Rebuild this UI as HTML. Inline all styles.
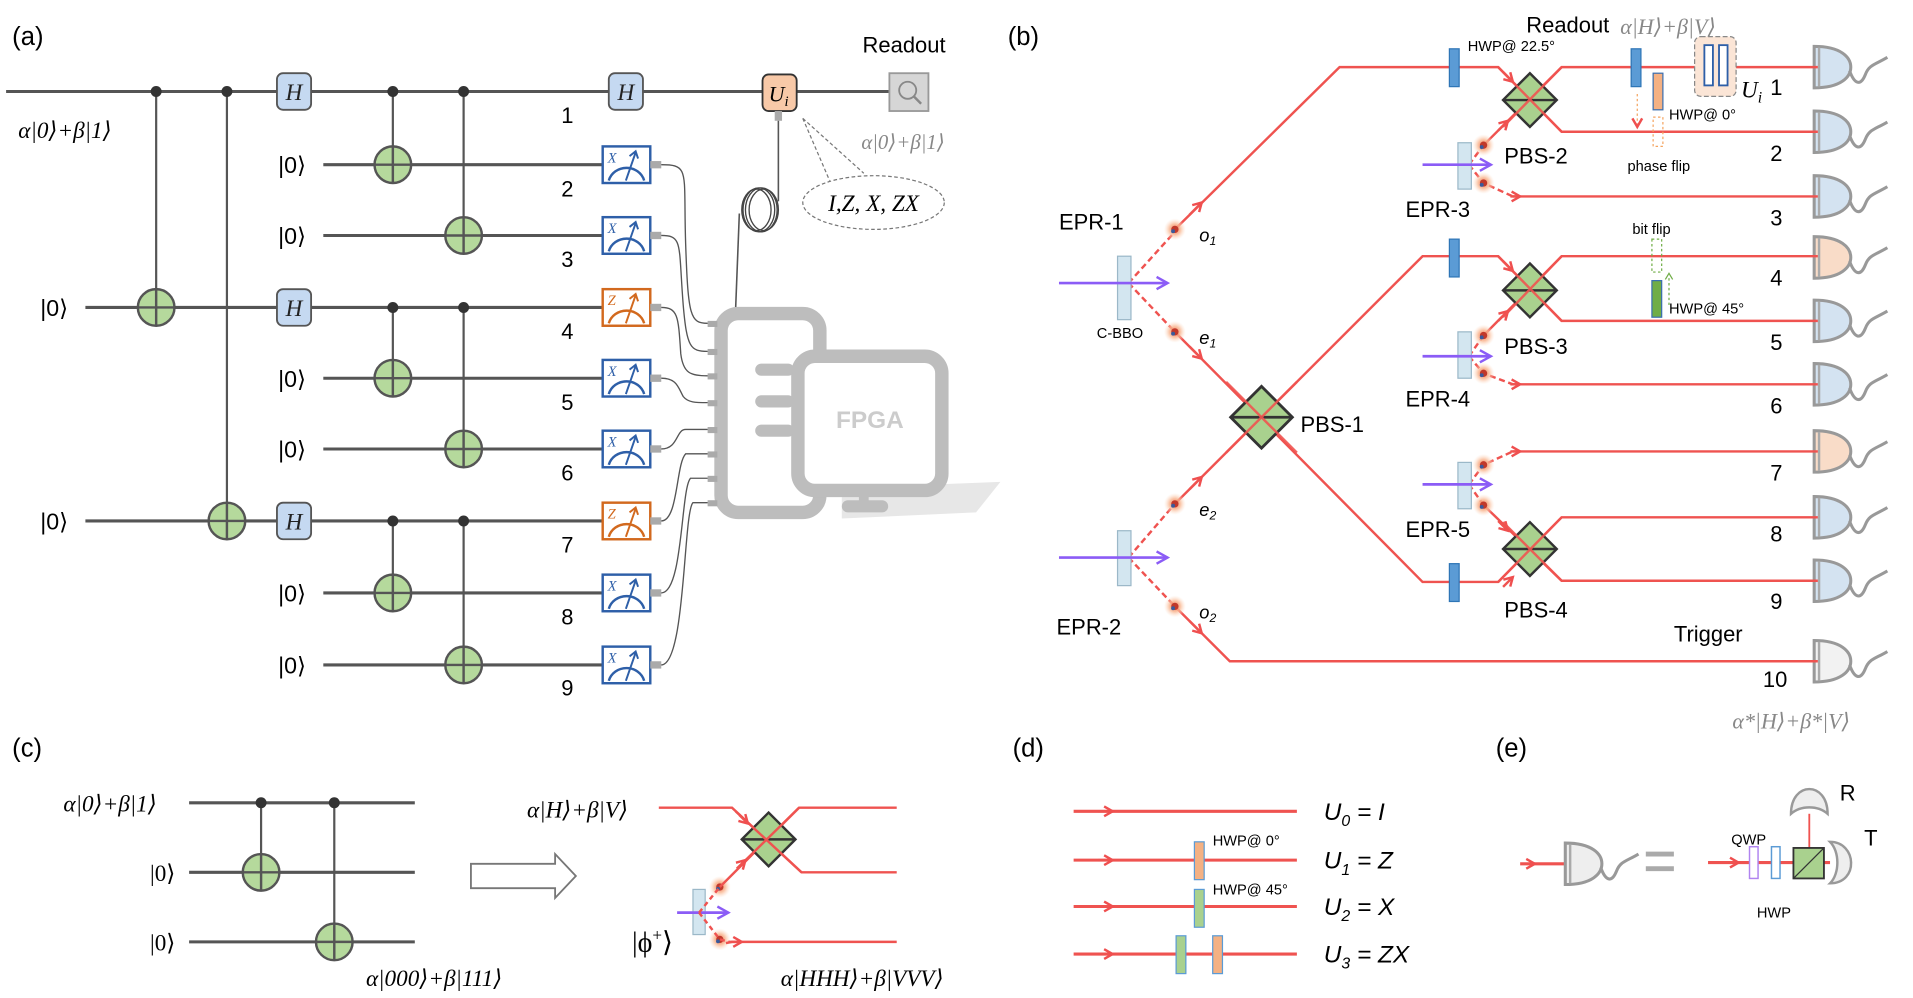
<!DOCTYPE html>
<html><head><meta charset="utf-8"><style>
html,body{margin:0;padding:0;background:#fff;}
svg{display:block;}
text{font-family:"Liberation Sans",sans-serif;}
.m{font-family:"Liberation Serif","DejaVu Serif",serif;font-style:italic;}
.k{font-family:"Liberation Serif","DejaVu Serif",serif;}
</style></head><body>
<svg width="1913" height="998" viewBox="0 0 1568 818" preserveAspectRatio="none" xmlns="http://www.w3.org/2000/svg">
<defs>
<marker id="ar" markerWidth="10" markerHeight="10" refX="8" refY="5" orient="auto" markerUnits="userSpaceOnUse"><path d="M1,1 L8,5 L1,9" fill="none" stroke="#ef4f4f" stroke-width="2"/></marker>
<marker id="ap" markerWidth="12" markerHeight="12" refX="10" refY="6" orient="auto" markerUnits="userSpaceOnUse"><path d="M1,1 L10,6 L1,11" fill="none" stroke="#8b5cf6" stroke-width="2"/></marker>
<radialGradient id="glow"><stop offset="0" stop-color="#f07050"/><stop offset="0.5" stop-color="#f9b690" stop-opacity="0.8"/><stop offset="1" stop-color="#fde0cc" stop-opacity="0"/></radialGradient>
<symbol id="det" overflow="visible"><path d="M0,-17 C22,-17 30,-8 30,0 C30,8 22,17 0,17 Z" stroke="#999" stroke-width="2.5"/><path d="M4,-16 L4,16" stroke="#aaa" stroke-width="2"/><path d="M29,3 C33,14 38,16 42,6 C45,-2 50,-2 60,-8" fill="none" stroke="#999" stroke-width="2.5"/></symbol>
<symbol id="pbs" overflow="visible"><path d="M0,-22 L22,0 L0,22 L-22,0 Z" fill="#a9d18e" stroke="#333" stroke-width="2"/><path d="M-22,0 L22,0" stroke="#333" stroke-width="2"/></symbol>
<symbol id="ph" overflow="visible"><circle r="9" fill="url(#glow)"/><circle r="3" fill="#c0392b"/><circle cx="-1.5" cy="1.5" r="1.6" fill="#3a5a9a"/></symbol>
<symbol id="tg" overflow="visible"><circle r="15" fill="#b5d99c" stroke="#555" stroke-width="2"/><path d="M-15,0 L15,0 M0,-15 L0,15" stroke="#555" stroke-width="2"/></symbol>
<symbol id="mx" overflow="visible"><rect x="-19" y="-15" width="39" height="30" fill="#fff" stroke="#2e5fa8" stroke-width="2"/><path d="M-14,13 A15,14 0 0 1 15,13" fill="none" stroke="#2e5fa8" stroke-width="2"/><path d="M0,13 L8,-10 M3,-7 L8,-11 L10,-5" fill="none" stroke="#2e5fa8" stroke-width="1.6"/><text x="-15" y="-2" font-size="12" class="m" fill="#2e5fa8">X</text><rect x="20" y="-3" width="9" height="6" fill="#aaa"/></symbol>
<symbol id="mz" overflow="visible"><rect x="-19" y="-15" width="39" height="30" fill="#fff" stroke="#d2691e" stroke-width="2"/><path d="M-14,13 A15,14 0 0 1 15,13" fill="none" stroke="#d2691e" stroke-width="2"/><path d="M0,13 L8,-10 M3,-7 L8,-11 L10,-5" fill="none" stroke="#d2691e" stroke-width="1.6"/><text x="-15" y="-2" font-size="12" class="m" fill="#d2691e">Z</text><rect x="20" y="-3" width="9" height="6" fill="#aaa"/></symbol>
<symbol id="hb" overflow="visible"><rect x="-14" y="-15" width="28" height="30" rx="5" fill="#c5d9f1" stroke="#555" stroke-width="1.5"/><text x="0" y="7" font-size="19" text-anchor="middle" class="m" fill="#222">H</text></symbol>
</defs>

<!-- ===== (a) ===== -->
<text x="10" y="37" font-size="21">(a)</text>
<text x="707" y="43" font-size="18">Readout</text>
<g stroke="#555" stroke-width="2.5" fill="none">
<path d="M5,75 L729,75"/>
<path d="M265,135 L494,135 M265,193 L494,193 M70,252 L494,252 M265,310 L494,310 M265,368 L494,368 M70,427 L494,427 M265,486 L494,486 M265,545 L494,545"/>
</g>
<g stroke="#555" stroke-width="1.8">
<path d="M128,75 L128,252 M186,75 L186,427 M322,75 L322,135 M380,75 L380,193 M322,252 L322,310 M380,252 L380,368 M322,427 L322,486 M380,427 L380,545"/>
</g>
<g fill="#333">
<circle cx="128" cy="75" r="4.5"/><circle cx="186" cy="75" r="4.5"/><circle cx="322" cy="75" r="4.5"/><circle cx="380" cy="75" r="4.5"/>
<circle cx="322" cy="252" r="4.5"/><circle cx="380" cy="252" r="4.5"/><circle cx="322" cy="427" r="4.5"/><circle cx="380" cy="427" r="4.5"/>
</g>
<use href="#tg" x="128" y="252"/><use href="#tg" x="186" y="427"/><use href="#tg" x="322" y="135"/><use href="#tg" x="380" y="193"/>
<use href="#tg" x="322" y="310"/><use href="#tg" x="380" y="368"/><use href="#tg" x="322" y="486"/><use href="#tg" x="380" y="545"/>
<use href="#hb" x="241" y="75"/><use href="#hb" x="513" y="75"/><use href="#hb" x="241" y="252"/><use href="#hb" x="241" y="427"/>
<use href="#mx" x="513" y="135"/><use href="#mx" x="513" y="193"/><use href="#mz" x="513" y="252"/><use href="#mx" x="513" y="310"/>
<use href="#mx" x="513" y="368"/><use href="#mz" x="513" y="427"/><use href="#mx" x="513" y="486"/><use href="#mx" x="513" y="545"/>
<rect x="625" y="61" width="28" height="30" rx="5" fill="#f8c9a8" stroke="#333" stroke-width="1.5"/>
<text x="630" y="83" font-size="18" class="m">U<tspan font-size="12" dy="4">i</tspan></text>
<rect x="729" y="60" width="32" height="31" fill="#d6d6d6" stroke="#999" stroke-width="1.5"/>
<circle cx="744" cy="74" r="7" fill="none" stroke="#888" stroke-width="1.5"/><path d="M749,79 L755,85" stroke="#888" stroke-width="2"/>
<rect x="635" y="91" width="6" height="8" fill="#aaa"/>
<path d="M638,99 L638,165" stroke="#555" stroke-width="1.3" fill="none"/>
<g fill="none" stroke="#444" stroke-width="1.1"><ellipse cx="622" cy="172" rx="13" ry="18"/><ellipse cx="624" cy="172" rx="13" ry="18"/><ellipse cx="626" cy="172" rx="12" ry="17"/><ellipse cx="620" cy="172" rx="12" ry="17"/></g>
<path d="M606,175 L603,252" stroke="#555" stroke-width="1.3" fill="none"/>
<text x="706" y="122" font-size="17" class="m" fill="#888">α|0⟩+β|1⟩</text>
<path d="M658,97 L708,142 M658,97 L680,148" stroke="#777" stroke-width="1" stroke-dasharray="3,2" fill="none"/>
<ellipse cx="716" cy="166" rx="58" ry="22" fill="#fff" stroke="#777" stroke-width="1" stroke-dasharray="3,2"/>
<text x="716" y="173" font-size="19" text-anchor="middle" class="m">I,Z, X, ZX</text>
<text x="15" y="113" font-size="19" class="m">α|0⟩+β|1⟩</text>
<g font-size="19" class="k">
<text x="228" y="142">|0⟩</text><text x="228" y="200">|0⟩</text><text x="33" y="259">|0⟩</text><text x="228" y="317">|0⟩</text>
<text x="228" y="375">|0⟩</text><text x="33" y="434">|0⟩</text><text x="228" y="493">|0⟩</text><text x="228" y="552">|0⟩</text>
</g>
<g font-size="18">
<text x="460" y="101">1</text><text x="460" y="161">2</text><text x="460" y="219">3</text><text x="460" y="278">4</text><text x="460" y="336">5</text>
<text x="460" y="394">6</text><text x="460" y="453">7</text><text x="460" y="512">8</text><text x="460" y="570">9</text>
</g>
<path d="M690,400 L820,395 L800,420 L690,425 Z" fill="#ddd" opacity="0.7"/>
<rect x="591" y="257" width="81" height="163" rx="14" fill="none" stroke="#bdbdbd" stroke-width="11"/>
<rect x="654" y="292" width="118" height="110" rx="14" fill="#fff" stroke="#bdbdbd" stroke-width="11"/>
<rect x="704" y="402" width="8" height="12" fill="#bdbdbd"/><rect x="690" y="410" width="38" height="10" rx="5" fill="#bdbdbd"/>
<g stroke="#bdbdbd" stroke-width="10" stroke-linecap="round"><path d="M624,303 L646,303 M624,329 L646,329 M624,353 L646,353"/></g>
<text x="713" y="351" font-size="20" font-weight="bold" text-anchor="middle" fill="#ccc">FPGA</text>
<g fill="#aaa"><rect x="580" y="263" width="8" height="5"/><rect x="580" y="286" width="8" height="5"/><rect x="580" y="306" width="8" height="5"/><rect x="580" y="328" width="8" height="5"/><rect x="580" y="350" width="8" height="5"/><rect x="580" y="370" width="8" height="5"/><rect x="580" y="390" width="8" height="5"/><rect x="580" y="410" width="8" height="5"/></g>
<g fill="none" stroke="#555" stroke-width="1.1">
<path d="M542,135 C566,135 560,140 562,200 C564,260 566,265 580,265"/>
<path d="M542,193 C560,193 556,200 560,250 C563,285 566,288 580,288"/>
<path d="M542,252 C556,252 556,260 558,290 C560,306 566,308 580,308"/>
<path d="M542,310 C555,310 556,318 560,325 C564,330 570,330 580,330"/>
<path d="M542,368 C556,368 554,352 562,352 L580,352"/>
<path d="M542,427 C556,427 554,380 562,372 L580,372"/>
<path d="M542,486 C560,486 558,400 566,392 L580,392"/>
<path d="M542,545 C562,545 560,420 568,412 L580,412"/>
</g>

<!-- ===== (b) ===== -->
<text x="826" y="37" font-size="21">(b)</text>
<text x="1251" y="22" font-size="18" dominant-baseline="middle">Readout</text>
<text x="1328" y="28" font-size="18" class="m" fill="#888">α|H⟩+β|V⟩</text>
<g fill="#d4e3f1"><use href="#det" x="1487" y="55"/><use href="#det" x="1487" y="108"/><use href="#det" x="1487" y="161"/><use href="#det" x="1487" y="263"/><use href="#det" x="1487" y="315"/><use href="#det" x="1487" y="424"/><use href="#det" x="1487" y="476"/></g>
<g fill="#f9dcc8"><use href="#det" x="1487" y="211"/><use href="#det" x="1487" y="370"/></g>
<g fill="#f2f2f2"><use href="#det" x="1487" y="542"/></g>
<g fill="none" stroke="#ef5350" stroke-width="2">
<path d="M963,188 L1098,55 L1228,55 L1280,108 L1490,108"/>
<path d="M1216,119 L1280,55 L1490,55"/>
<path d="M1240,161 L1490,161"/>
<path d="M963,272 L1166,477 L1228,477 L1280,424 L1490,424"/>
<path d="M963,413 L1166,210 L1228,210 L1280,263 L1490,263"/>
<path d="M1216,275 L1280,210 L1490,210"/>
<path d="M1240,315 L1490,315"/>
<path d="M1240,370 L1490,370"/>
<path d="M1216,414 L1280,476 L1490,476"/>
<path d="M963,497 L1008,542 L1490,542"/>
</g>
<g fill="none" stroke="#ef5350" stroke-width="2" stroke-dasharray="5,3">
<path d="M925,232 L963,190 M925,232 L963,272 M925,457 L963,413 M925,457 L963,497"/>
<path d="M1204,135 L1216,119 M1204,135 L1216,150 L1240,161"/>
<path d="M1204,292 L1216,275 M1204,292 L1216,306 L1240,315"/>
<path d="M1204,397 L1216,381 L1240,370 M1204,397 L1216,414"/>
</g>
<g stroke="#ef5350" stroke-width="2" fill="none" marker-end="url(#ar)">
<path d="M975,176 L985,166"/><path d="M975,284 L985,294"/><path d="M975,401 L985,391"/><path d="M975,509 L985,519"/>
<path d="M1232,59 L1240,67"/><path d="M1228,107 L1236,99"/><path d="M1232,481 L1240,473"/><path d="M1228,427 L1236,435"/>
<path d="M1232,214 L1240,222"/><path d="M1228,263 L1236,255"/>
<path d="M1238,161 L1246,161"/><path d="M1238,315 L1246,315"/><path d="M1238,370 L1246,370"/>
</g>
<use href="#pbs" x="1254" y="82"/><use href="#pbs" x="1254" y="238"/><use href="#pbs" x="1254" y="450"/>
<g transform="translate(1034,342) scale(1.15)"><use href="#pbs"/></g>
<g fill="none" stroke="#ef5350" stroke-width="2" opacity="0.9">
<path d="M1228,55 L1280,108 M1232,104 L1280,55 M1228,210 L1280,263 M1232,260 L1280,210 M1228,477 L1280,424 M1232,428 L1280,476 M1005,313 L1063,371 M1005,371 L1063,313"/>
</g>
<g fill="#d3e6f0" stroke="#9bb8c8" stroke-width="1"><rect x="916" y="210" width="11" height="52"/><rect x="916" y="435" width="11" height="45"/><rect x="1195" y="117" width="11" height="38"/><rect x="1195" y="272" width="11" height="38"/><rect x="1195" y="379" width="11" height="38"/><rect x="568" y="729" width="10" height="37"/></g>
<g stroke="#8b5cf6" stroke-width="2.2" marker-end="url(#ap)"><path d="M868,232 L957,232"/><path d="M868,457 L957,457"/><path d="M1166,135 L1222,135"/><path d="M1166,292 L1222,292"/><path d="M1166,397 L1222,397"/><path d="M555,748 L597,748"/></g>
<use href="#ph" x="963" y="188"/><use href="#ph" x="963" y="272"/><use href="#ph" x="963" y="413"/><use href="#ph" x="963" y="497"/>
<use href="#ph" x="1216" y="119"/><use href="#ph" x="1216" y="150"/><use href="#ph" x="1216" y="275"/><use href="#ph" x="1216" y="306"/><use href="#ph" x="1216" y="381"/><use href="#ph" x="1216" y="414"/>
<use href="#ph" x="590" y="727"/><use href="#ph" x="590" y="770"/>
<g fill="#5b9bd5" stroke="#2e75b6" stroke-width="1"><rect x="1188" y="40" width="8" height="31"/><rect x="1188" y="196" width="8" height="31"/><rect x="1188" y="462" width="8" height="31"/><rect x="1337" y="40" width="8" height="31"/></g>
<rect x="1355" y="60" width="8" height="30" fill="#f4b183" stroke="#3a6fb0" stroke-width="1"/>
<rect x="1355" y="96" width="8" height="24" fill="none" stroke="#f4a460" stroke-width="1" stroke-dasharray="2,2"/>
<path d="M1342,77 L1342,104" stroke="#f4a460" stroke-width="1" stroke-dasharray="2,2" marker-end="url(#ar)"/>
<rect x="1389" y="30" width="34" height="49" rx="5" fill="#fbe5d6" stroke="#888" stroke-width="1" stroke-dasharray="4,2"/>
<rect x="1397" y="37" width="7" height="33" fill="#fff" stroke="#2e5fa8" stroke-width="1.5"/><rect x="1409" y="37" width="7" height="33" fill="#fff" stroke="#2e5fa8" stroke-width="1.5"/>
<rect x="1354" y="196" width="8" height="27" fill="none" stroke="#70ad47" stroke-width="1" stroke-dasharray="2,2"/>
<rect x="1354" y="230" width="8" height="30" fill="#70ad47" stroke="#3a6fb0" stroke-width="1"/>
<path d="M1368,250 L1368,226" stroke="#70ad47" stroke-width="1" stroke-dasharray="2,2"/><path d="M1365,229 L1368,224 L1371,229" fill="none" stroke="#70ad47"/>
<g font-size="12"><text x="1203" y="42">HWP@ 22.5°</text><text x="1368" y="98">HWP@ 0°</text><text x="1334" y="140">phase flip</text><text x="1338" y="192">bit flip</text><text x="1368" y="257">HWP@ 45°</text><text x="899" y="277">C-BBO</text></g>
<g font-size="18"><text x="868" y="188">EPR-1</text><text x="866" y="520">EPR-2</text><text x="1152" y="178">EPR-3</text><text x="1152" y="333">EPR-4</text><text x="1152" y="440">EPR-5</text>
<text x="1233" y="134">PBS-2</text><text x="1233" y="290">PBS-3</text><text x="1066" y="354">PBS-1</text><text x="1233" y="506">PBS-4</text><text x="1372" y="526">Trigger</text></g>
<text x="1427" y="80" font-size="19" class="m">U<tspan font-size="13" dy="4">i</tspan></text>
<g font-size="18"><text x="1451" y="78">1</text><text x="1451" y="132">2</text><text x="1451" y="185">3</text><text x="1451" y="234">4</text><text x="1451" y="287">5</text><text x="1451" y="339">6</text><text x="1451" y="394">7</text><text x="1451" y="444">8</text><text x="1451" y="499">9</text><text x="1445" y="563">10</text></g>
<g font-size="15" class="m"><text x="983" y="198">o<tspan font-size="10" dy="3">1</tspan></text><text x="983" y="282">e<tspan font-size="10" dy="3">1</tspan></text><text x="983" y="423">e<tspan font-size="10" dy="3">2</tspan></text><text x="983" y="507">o<tspan font-size="10" dy="3">2</tspan></text></g>
<text x="1420" y="597" font-size="18" class="m" fill="#888">α*|H⟩+β*|V⟩</text>

<!-- ===== (c) ===== -->
<text x="10" y="620" font-size="21">(c)</text>
<g stroke="#555" stroke-width="2.5"><path d="M155,658 L340,658 M155,715 L340,715 M155,772 L340,772"/></g>
<g stroke="#555" stroke-width="1.8"><path d="M214,658 L214,715 M274,658 L274,772"/></g>
<circle cx="214" cy="658" r="4.5" fill="#333"/><circle cx="274" cy="658" r="4.5" fill="#333"/>
<use href="#tg" x="214" y="715"/><use href="#tg" x="274" y="772"/>
<text x="52" y="665" font-size="19" class="m">α|0⟩+β|1⟩</text>
<text x="123" y="722" font-size="19" class="k">|0⟩</text><text x="123" y="779" font-size="19" class="k">|0⟩</text>
<text x="300" y="808" font-size="19" class="m">α|000⟩+β|111⟩</text>
<path d="M386,708 L455,708 L455,700 L472,718 L455,736 L455,728 L386,728 Z" fill="#fff" stroke="#777" stroke-width="1.5"/>
<g fill="none" stroke="#ef5350" stroke-width="2">
<path d="M540,662 L600,662 L657,715 L735,715"/>
<path d="M590,727 L655,662 L735,662"/>
<path d="M595,773 L600,772 L735,772"/>
</g>
<path d="M573,748 L590,727 M573,748 L590,770 L598,772" fill="none" stroke="#ef5350" stroke-width="2" stroke-dasharray="4,3"/>
<use href="#pbs" x="630" y="688"/>
<path d="M603,665 L657,715 M604,712 L655,662" stroke="#ef5350" stroke-width="2"/>
<g stroke="#ef5350" stroke-width="2" marker-end="url(#ar)"><path d="M606,668 L613,675"/><path d="M604,712 L611,705"/><path d="M598,772 L608,772"/></g>
<text x="518" y="780" font-size="23" class="k">|ϕ<tspan font-size="14" dy="-9">+</tspan><tspan dy="9">⟩</tspan></text>
<text x="432" y="670" font-size="19" class="m">α|H⟩+β|V⟩</text>
<text x="640" y="808" font-size="19" class="m">α|HHH⟩+β|VVV⟩</text>

<!-- ===== (d) ===== -->
<text x="830" y="620" font-size="21">(d)</text>
<g stroke="#ef5350" stroke-width="2.5"><path d="M880,665 L1063,665 M880,705 L1063,705 M880,743 L1063,743 M880,782 L1063,782"/></g>
<g stroke="#ef5350" stroke-width="2" marker-end="url(#ar)"><path d="M900,665 L912,665"/><path d="M900,705 L912,705"/><path d="M900,743 L912,743"/><path d="M900,782 L912,782"/></g>
<rect x="979" y="690" width="8" height="31" fill="#f4b183" stroke="#5b9bd5"/>
<rect x="979" y="729" width="8" height="31" fill="#a9d18e" stroke="#5b9bd5"/>
<rect x="964" y="767" width="8" height="31" fill="#a9d18e" stroke="#5b9bd5"/>
<rect x="994" y="767" width="8" height="31" fill="#f4b183" stroke="#5b9bd5"/>
<g font-size="12"><text x="994" y="693">HWP@ 0°</text><text x="994" y="733">HWP@ 45°</text></g>
<g font-size="20" class="m"><text x="1085" y="672">U<tspan font-size="13" dy="5">0</tspan><tspan dy="-5"> = I</tspan></text><text x="1085" y="712">U<tspan font-size="13" dy="5">1</tspan><tspan dy="-5"> = Z</tspan></text><text x="1085" y="750">U<tspan font-size="13" dy="5">2</tspan><tspan dy="-5"> = X</tspan></text><text x="1085" y="789">U<tspan font-size="13" dy="5">3</tspan><tspan dy="-5"> = ZX</tspan></text></g>

<!-- ===== (e) ===== -->
<text x="1226" y="620" font-size="21">(e)</text>
<path d="M1246,708 L1285,708" stroke="#ef5350" stroke-width="2.5"/>
<path d="M1248,708 L1258,708" stroke="#ef5350" stroke-width="2" marker-end="url(#ar)"/>
<g fill="#eee"><use href="#det" x="1283" y="708"/></g>
<path d="M1349,700 L1372,700 M1349,712 L1372,712" stroke="#aaa" stroke-width="4"/>
<path d="M1400,707 L1500,707" stroke="#ef5350" stroke-width="2.5"/>
<path d="M1410,707 L1425,707" stroke="#ef5350" stroke-width="2" marker-end="url(#ar)"/>
<path d="M1483,707 L1483,667" stroke="#ef5350" stroke-width="1.5"/>
<rect x="1434" y="694" width="7" height="26" fill="#fff" stroke="#b084f0" stroke-width="1.2"/>
<rect x="1452" y="694" width="7" height="26" fill="#fff" stroke="#5b9bd5" stroke-width="1.2"/>
<rect x="1470" y="695" width="25" height="25" fill="#a9d18e" stroke="#333" stroke-width="1.5"/>
<path d="M1470,720 L1495,695" stroke="#333" stroke-width="1"/>
<path d="M1500,690 C1522,690 1524,724 1500,724 C1508,716 1508,698 1500,690 Z" fill="#eee" stroke="#999" stroke-width="2"/>
<path d="M1468,667 C1468,640 1498,640 1498,667 C1490,660 1476,660 1468,667 Z" fill="#eee" stroke="#999" stroke-width="2"/>
<text x="1508" y="656" font-size="18">R</text><text x="1528" y="693" font-size="18">T</text>
<g font-size="12"><text x="1419" y="692">QWP</text><text x="1440" y="752">HWP</text></g>
</svg>
</body></html>
